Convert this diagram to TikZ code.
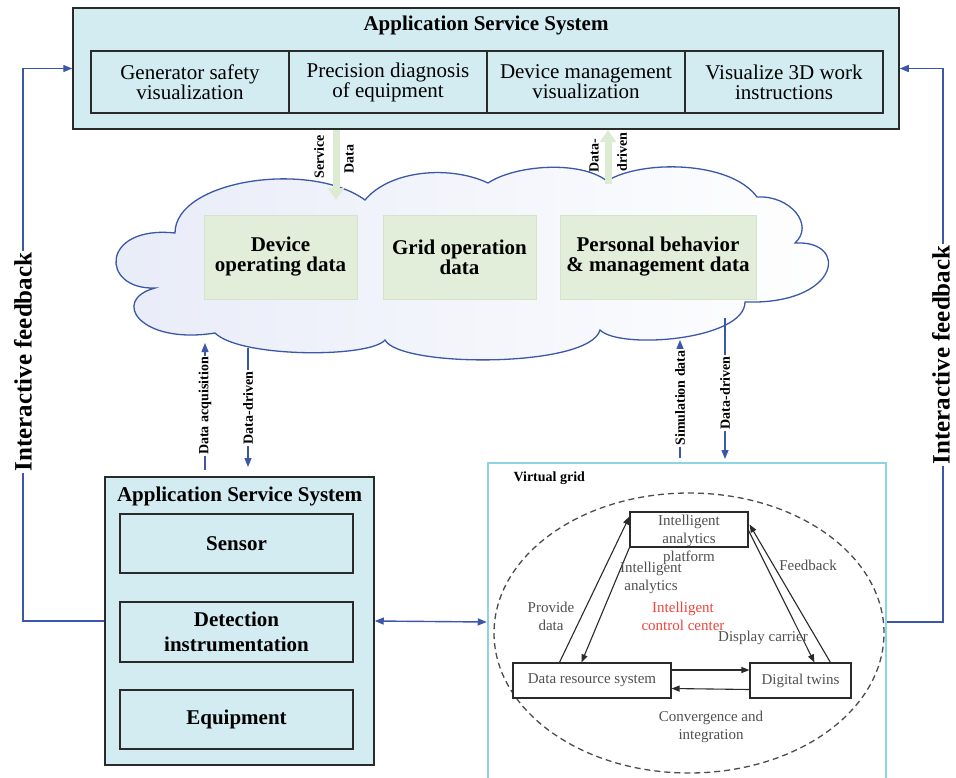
\documentclass[tikz,border=0pt]{standalone}
\usepackage{fontspec}
\setmainfont{Liberation Serif}
\usetikzlibrary{arrows.meta,calc}
\definecolor{boxfill}{HTML}{D2ECF2}
\definecolor{gfill}{HTML}{E2EED9}
\definecolor{gline}{HTML}{D3E4C8}
\definecolor{fblue}{HTML}{3B57A8}
\definecolor{vcyan}{HTML}{8DD5E3}
\definecolor{gtext}{HTML}{505050}
\definecolor{rtext}{HTML}{F0443A}
\definecolor{garrow}{HTML}{DCEBD2}
\definecolor{cloudl}{HTML}{E8ECF8}
\definecolor{dline}{HTML}{2A2A2A}
\tikzset{
  outerbox/.style={draw=dline, line width=1.5pt, fill=boxfill, inner sep=0pt},
  cellbox/.style={draw=dline, line width=1.8pt, inner sep=0pt, align=center,
    font=\fontsize{21}{20}\selectfont},
  lcell/.style={draw=dline, line width=1.6pt, inner sep=0pt, align=center,
    minimum width=233pt, font=\bfseries\fontsize{21}{25}\selectfont},
  databox/.style={draw=gline, line width=0.8pt, fill=gfill, inner sep=0pt, align=center,
    minimum height=84pt, font=\bfseries\fontsize{21}{20}\selectfont},
  fbline/.style={draw=fblue, line width=1.4pt},
  fbtip/.style={fbline, -{Triangle[length=9pt,width=7pt]}},
  fbtwo/.style={fbline, {Triangle[length=9pt,width=7pt]}-{Triangle[length=9pt,width=7pt]}},
  greenarrow/.style={draw=garrow, line width=7pt, -{Triangle[length=12pt,width=16pt]}},
  slabel/.style={font=\bfseries\fontsize{14}{14}\selectfont, rotate=90, fill=white, inner sep=1.5pt},
  glabel/.style={font=\bfseries\fontsize{14}{14}\selectfont, rotate=90, inner sep=0pt},
  ifb/.style={font=\bfseries\fontsize{25}{25}\selectfont, rotate=90, fill=white, inner sep=1.5pt},
  vgbox/.style={draw=dline, line width=1.1pt, fill=white, inner sep=0pt, minimum height=35pt,
    font=\fontsize{15}{18}\selectfont, text=gtext},
  vgtext/.style={font=\fontsize{15}{18}\selectfont, text=gtext, align=center, inner sep=0pt},
  vgarrow/.style={draw=dline, line width=1.1pt, -{Triangle[length=8pt,width=6pt]}},
}
\begin{document}
\begin{tikzpicture}[x=1pt,y=-1pt]
\useasboundingbox (0,0) rectangle (956,777);

% ---------- top application service system ----------
\node[outerbox, minimum width=826pt, minimum height=121pt] (top) at (486,68.5) {};
\node[font=\bfseries\fontsize{21}{21}\selectfont] (toptitle) at (486,25) {Application Service System};
\node[cellbox, minimum width=198pt, minimum height=62pt] (c1) at (190,82) {Generator safety\\visualization};
\node[cellbox, minimum width=198pt, minimum height=62pt] (c2) at (388,82) {Precision diagnosis\\of equipment};
\node[cellbox, minimum width=198pt, minimum height=62pt] (c3) at (586,82) {Device management\\visualization};
\node[cellbox, minimum width=198pt, minimum height=62pt] (c4) at (784,82) {Visualize 3D work\\instructions};

% ---------- cloud ----------
\path[draw=fblue, line width=1.3pt, left color=cloudl, right color=white]
  (175,233) .. controls (175,180) and (310,160) .. (365,200)
  .. controls (390,170) and (450,165) .. (488,183)
  .. controls (515,165) and (580,160) .. (607,181)
  .. controls (640,160) and (730,160) .. (757,197)
  .. controls (790,195) and (815,225) .. (795,243)
  .. controls (850,240) and (840,305) .. (745,302)
  .. controls (745,340) and (620,350) .. (600,330)
  .. controls (590,368) and (400,368) .. (385,340)
  .. controls (370,358) and (240,358) .. (215,333)
  .. controls (140,345) and (110,300) .. (155,288)
  .. controls (100,290) and (100,225) .. (175,233) -- cycle;

\node[databox, minimum width=153pt] (d1) at (280.5,257) {Device\\operating data};
\node[databox, minimum width=153pt] (d2) at (459.5,257) {Grid operation\\data};
\node[databox, minimum width=196pt] (d3) at (658,257) {Personal behavior\\\& management data};

% ---------- green arrows ----------
\coordinate (sdA) at (336,129.5);
\coordinate (sdB) at (336,200);
\draw[greenarrow] (sdA) -- (sdB);
\node[glabel] (svc) at (319,157) {Service};
\node[glabel] (sdat) at (349,159) {Data};

\coordinate (ddA) at (608,184);
\coordinate (ddB) at (608,130);
\draw[greenarrow] (ddA) -- (ddB);
\node[glabel] (dd1) at (594,156) {Data-};
\node[glabel] (dd2) at (622,152) {driven};

% ---------- bottom-left application box ----------
\node[outerbox, minimum width=269pt, minimum height=288pt] (lbox) at (239.5,621) {};
\node[font=\bfseries\fontsize{21}{21}\selectfont] (ltitle) at (239.5,496) {Application Service System};
\node[lcell, minimum height=59pt] (sensor) at (236.5,543.5) {Sensor};
\node[lcell, minimum height=60pt] (detect) at (236.5,632) {Detection\\instrumentation};
\node[lcell, minimum height=59pt] (equip) at (236.5,719.5) {Equipment};

% ---------- virtual grid ----------
\node[draw=vcyan, line width=2.5pt, fill=white, minimum width=398pt, minimum height=318pt, inner sep=0pt] (vg) at (687,622) {};
\node[font=\bfseries\fontsize{14}{14}\selectfont, anchor=west] (vgt) at (510,478) {Virtual grid};
\draw[draw=black!70, line width=1.3pt, dash pattern=on 6pt off 4pt] (689,633) ellipse [x radius=195pt, y radius=140pt];

\node[vgbox, minimum width=118pt] (iap) at (689,529.5) {};
\node[vgtext] (iapl) at (689,540) {Intelligent\\analytics\\platform};
\node[vgbox, minimum width=158pt] (drs) at (592,680.5) {Data resource system};
\node[vgbox, minimum width=101pt] (dt) at (800.5,680.5) {Digital twins};

\draw[vgarrow] ($(drs.north west)+(47,0)$) -- ($(iap.north west)+(0,5)$);
\draw[vgarrow] (iap.south west) -- ($(drs.north west)+(69,0)$);
\draw[vgarrow] ($(iap.north east)+(0,19)$) -- ($(dt.north west)+(65,0)$);
\draw[vgarrow] ($(dt.north west)+(81,0)$) -- ($(iap.north east)+(1,13)$);
\draw[vgarrow] ($(drs.east)+(0,-10.5)$) -- ($(dt.west)+(0,-10.5)$);
\draw[vgarrow] ($(dt.west)+(0,9)$) -- ($(drs.east)+(0,8)$);

\node[vgtext] (lpd) at (551,616) {Provide\\data};
\node[vgtext] (lia) at (651,578) {Intelligent\\analytics};
\node[vgtext, text=rtext] (licc) at (683,616) {Intelligent\\control center};
\node[vgtext] (lfb) at (808,565) {Feedback};
\node[vgtext] (ldc) at (763,638) {Display carrier};
\node[vgtext] (lci) at (711,727) {Convergence and\\integration};

% ---------- blue connectors ----------
\draw[fbtwo] (lbox.east) -- (vg.west);

\coordinate (lfA) at (23,621);
\draw[fbtip] (lbox.west) -- (lfA) |- (top.west);
\node[ifb] (lfl) at (23,362) {Interactive feedback};

\coordinate (rfA) at (943,622);
\draw[fbtip] (vg.east) -- (rfA) |- (top.east);
\node[ifb] (rfl) at (941,355) {Interactive feedback};

\coordinate (daA) at (205,470);
\coordinate (daB) at (205,343);
\draw[fbtip] (daA) -- (daB);
\node[slabel] (dal) at (205,406) {Data acquisition};

\coordinate (ddlA) at (248,348);
\coordinate (ddlB) at (248,467);
\draw[fbtip] (ddlA) -- (ddlB);
\node[slabel] (ddll) at (248,408) {Data-driven};

\coordinate (simA) at (680,458);
\coordinate (simB) at (680,340);
\draw[fbtip] (simA) -- (simB);
\node[slabel] (siml) at (680,398) {Simulation data};

\coordinate (ddrA) at (725,318);
\coordinate (ddrB) at (725,459);
\draw[fbtip] (ddrA) -- (ddrB);
\node[slabel] (ddrl) at (725,393) {Data-driven};
\end{tikzpicture}
\end{document}
